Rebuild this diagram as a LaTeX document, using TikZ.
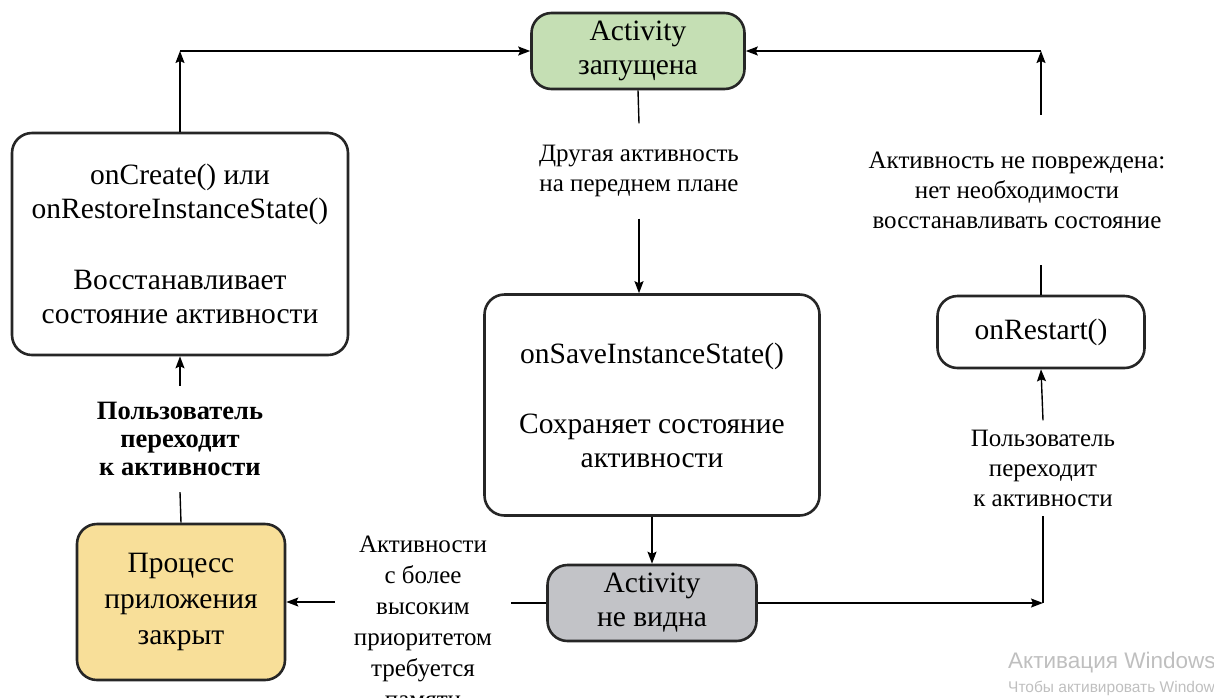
\documentclass[tikz,border=0pt]{standalone}
\usepackage{fontspec}
\setmainfont{Liberation Serif}
\newfontfamily\wmfont{Liberation Sans}
\usetikzlibrary{positioning,arrows.meta}
\definecolor{actgreen}{HTML}{C5DFB4}
\definecolor{procyellow}{HTML}{F8DF99}
\definecolor{hidegray}{HTML}{C2C3C7}

\begin{document}
\begin{tikzpicture}[x=1pt, y=-1pt,
  box/.style={draw=black!85, line width=2.6pt, rounded corners=20pt, align=center, inner sep=0pt, font=\fontsize{29.5}{34}\selectfont},
  lbl/.style={fill=white, align=center, inner sep=0pt, font=\fontsize{25}{30}\selectfont},
  arr/.style={line width=1.4pt, -{Stealth[length=12pt, width=9pt, inset=2pt]}},
  ln/.style={line width=1.4pt}]
\useasboundingbox (0,0) rectangle (1214,697);

% states
\node[box, fill=actgreen, minimum width=213, minimum height=76] (run) at (638,51) {Activity\\запущена};
\node[box, minimum width=336, minimum height=222] (create) at (180,244)
  {onCreate() или\\onRestoreInstanceState()\\[37pt]Восстанавливает\\состояние активности};
\node[box, minimum width=335, minimum height=221] (save) at (652,405)
  {onSaveInstanceState()\\[36pt]Сохраняет состояние\\активности};
\node[box, fill=hidegray, minimum width=209, minimum height=76] (hidden) at (652,603) {Activity\\не видна};
\node[box, fill=procyellow, minimum width=208, minimum height=156, font=\fontsize{29.5}{36}\selectfont] (proc) at (181,602)
  {Процесс\\приложения\\закрыт};
\node[box, minimum width=207, minimum height=72] (restart) at (1041,332) {onRestart()};

% labels
\node[lbl, minimum width=237, minimum height=95] (lblfront) at (639,171) {Другая активность\\на переднем плане};
\node[lbl, minimum width=325, minimum height=150] (lblok) at (1017,190)
  {Активность не повреждена:\\нет необходимости\\восстанавливать состояние};
\node[lbl, minimum width=235, minimum height=95] (lblnavr) at (1043,468) {Пользователь\\переходит\\к активности};
\node[lbl, minimum width=200, minimum height=106, font=\bfseries\fontsize{26.5}{28}\selectfont] (lblnavl) at (180,439)
  {Пользователь\\переходит\\к активности};
\node[lbl, minimum width=176, minimum height=170, font=\fontsize{25}{31}\selectfont] (lblmem) at (423,622)
  {Активности\\с более\\высоким\\приоритетом\\требуется\\памяти};

% corners
\coordinate (ctl) at (create.north |- run.west);
\coordinate (ctr) at (restart.north |- run.east);
\coordinate (cbr) at (lblnavr.south |- hidden.east);

% transitions
\draw[arr] (create.north) -- (ctl);
\draw[arr] (ctl) -- (run.west);
\draw[ln] (run.south) -- (lblfront.north);
\draw[arr] (lblfront.south) -- (lblfront.south |- save.north);
\draw[arr] (save.south) -- (hidden.north);
\draw[ln] (hidden.west) -- (hidden.west -| lblmem.east);
\draw[arr] (lblmem.west |- proc.east) -- (proc.east);
\draw[ln] (proc.north) -- (lblnavl.south);
\draw[arr] (lblnavl.north) -- (create.south);
\draw[arr] (hidden.east) -- (cbr);
\draw[ln] (cbr) -- (lblnavr.south);
\draw[arr] (lblnavr.north) -- (restart.south);
\draw[ln] (restart.north) -- (restart.north |- lblok.south);
\draw[arr] (restart.north |- lblok.north) -- (ctr);
\draw[arr] (ctr) -- (run.east);

% watermark
\node[anchor=base west, inner sep=0pt, text=black!25, font=\wmfont\fontsize{22.5}{22.5}\selectfont] (wm1) at (1008,668) {Активация Windows};
\node[anchor=base west, inner sep=0pt, text=black!25, font=\wmfont\fontsize{15.5}{15.5}\selectfont] (wm2) at (1008,692) {Чтобы активировать Windows};
\end{tikzpicture}
\end{document}
